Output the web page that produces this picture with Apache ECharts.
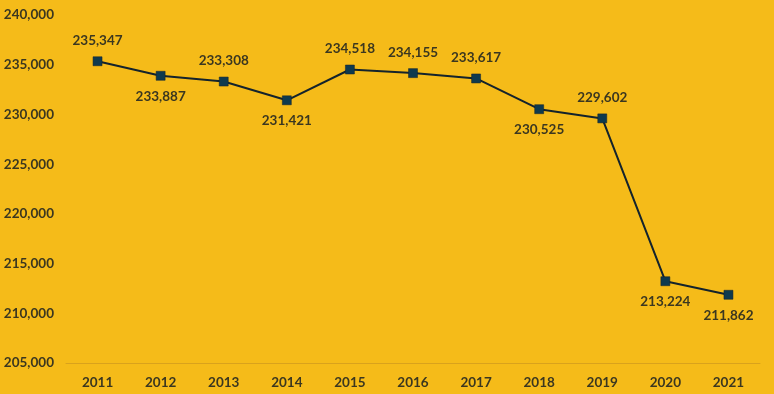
<!DOCTYPE html>
<html><head><meta charset="utf-8">
<script src="https://cdn.jsdelivr.net/npm/echarts@6/dist/echarts.min.js"></script>
<style>html,body{margin:0;padding:0;background:#F5BB19;}#c{width:774px;height:394px;}</style>
</head><body><div id="c"></div>
<script>
const years = ['2011','2012','2013','2014','2015','2016','2017','2018','2019','2020','2021'];
const values = [235347,233887,233308,231421,234518,234155,233617,230525,229602,213224,211862];
const labelPos = ['top','bottom','top','bottom','top','top','top','bottom','top','bottom','bottom'];
const fmt = v => v.toLocaleString('en-US');
const chart = echarts.init(document.getElementById('c'));
chart.setOption({
  backgroundColor: '#F5BB19',
  animation: false,
  grid: {left: 66, right: 14, top: 15, bottom: 31},
  xAxis: {
    type: 'category', data: years, boundaryGap: true,
    axisLine: {lineStyle: {color: '#D9A21C', width: 1}},
    axisTick: {show: false},
    axisLabel: {color: '#3B3720', fontFamily: 'Lato', fontWeight: 'bold', fontSize: 13.5, margin: 13}
  },
  yAxis: {
    type: 'value', min: 205000, max: 240000, interval: 5000,
    splitLine: {show: false}, axisLine: {show: false}, axisTick: {show: false},
    axisLabel: {color: '#3B3720', fontFamily: 'Lato', fontWeight: 'bold', fontSize: 13.5, margin: 12, formatter: fmt}
  },
  series: [{
    type: 'line',
    data: values.map((v, i) => ({value: v, label: {position: labelPos[i]}})),
    symbol: 'rect', symbolSize: 9,
    lineStyle: {color: '#14232C', width: 2},
    itemStyle: {color: '#0F3A4E', borderColor: '#14232C', borderWidth: 0.5},
    label: {show: true, distance: 9, color: '#3B3720', fontFamily: 'Lato', fontWeight: 'bold', fontSize: 13.5,
      formatter: p => fmt(p.value)}
  }]
});
</script></body></html>
